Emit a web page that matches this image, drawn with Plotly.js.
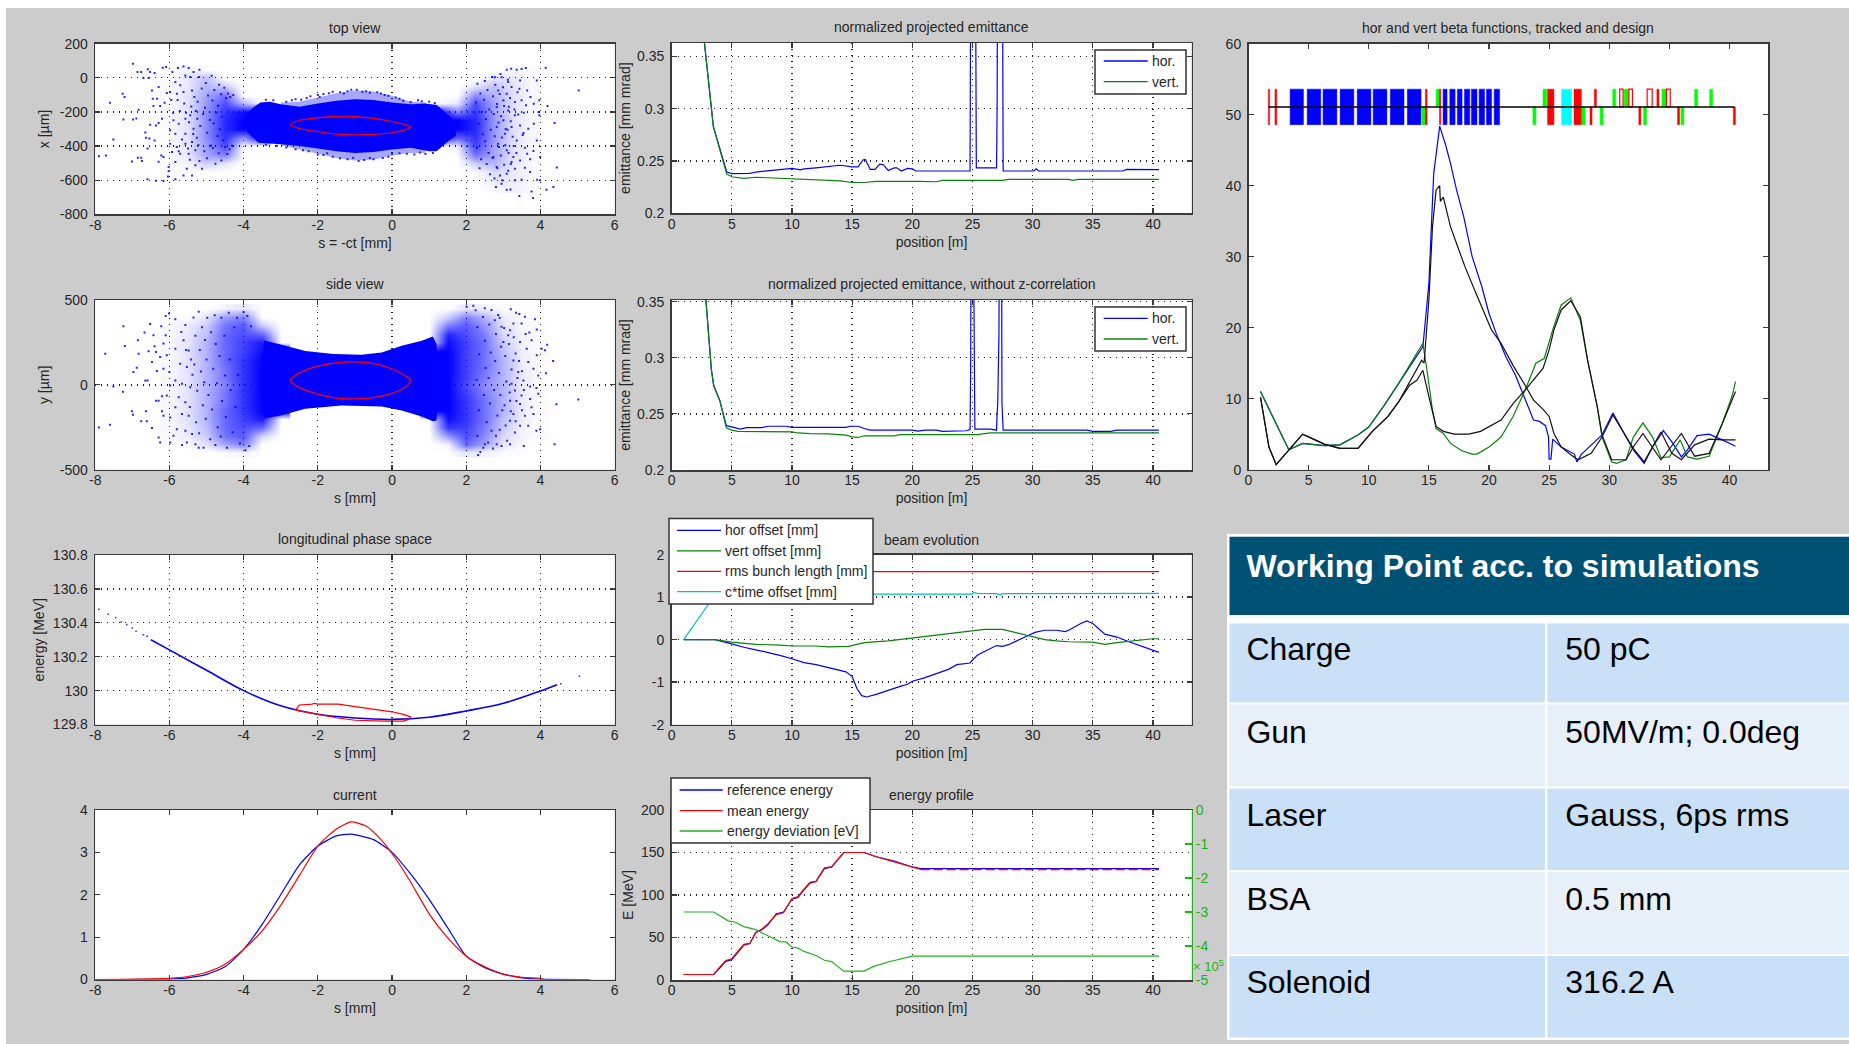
<!DOCTYPE html>
<html><head><meta charset="utf-8"><script src="https://cdn.plot.ly/plotly-3.0.1.min.js"></script>
<style>html,body{margin:0;padding:0;background:#fff;overflow:hidden}#g{width:1849px;height:1044px}</style></head>
<body><div id="g"></div>
<script>
// ---------- chart values ----------
const sTicks=[-8,-6,-4,-2,0,2,4,6], sLabels=['-8','-6','-4','-2','0','2','4','6'];
const posTicks=[0,5,10,15,20,25,30,35,40], posLabels=['0','5','10','15','20','25','30','35','40'];

// top view: solid core (s, x)
const topCore=[[-3.92,-210],[-3.75,-175],[-3.55,-145],[-3.3,-140],[-3,-155],[-2.5,-170],[-2,-150],[-1.5,-135],[-1,-125],[-.5,-130],[0,-145],[.5,-155],[.9,-150],[1.2,-160],[1.4,-195],[1.6,-235],[1.72,-265],[1.72,-340],[1.6,-355],[1.4,-395],[1.2,-430],[1,-430],[.5,-410],[0,-420],[-.5,-435],[-1,-440],[-1.5,-430],[-2,-415],[-2.5,-400],[-3,-390],[-3.6,-380],[-3.92,-315]];
const topFuzz=[[-3,-145],[-2.5,-140],[-2,-115],[-1.5,-90],[-1,-75],[-.5,-80],[0,-105],[.5,-140],[.9,-145],[.9,-440],[.5,-440],[0,-455],[-.5,-480],[-1,-485],[-1.5,-470],[-2,-445],[-2.5,-420],[-3,-395]];
// top view: estimated point density in the two wings
const topLeftS=[-6,-5.5,-5,-4.5,-4,-3.5], topLeftX=[50,0,-50,-100,-150,-200,-250,-300,-350,-400,-450,-500,-550,-600];
const topLeftDensity=[[0,.05,0,0,0,0],[.02,.1,.25,0,0,0],[.02,.1,.3,.2,0,0],[.02,.12,.35,.55,0,0],[.02,.12,.4,.7,.3,0],[.02,.12,.45,.8,.95,1],[.02,.12,.45,.85,1,1],[.02,.12,.45,.85,1,1],[.02,.12,.45,.8,.4,1],[.02,.1,.4,.7,.05,0],[.02,.1,.35,.5,0,0],[.02,.05,.2,.1,0,0],[.01,.02,0,0,0,0],[.01,0,0,0,0,0]];
const topRightS=[1.25,1.75,2.25,2.75,3.25,3.75], topRightX=[50,0,-50,-100,-150,-200,-250,-300,-350,-400,-450,-500,-550,-600,-650];
const topRightDensity=[[0,0,0,0,.03,.01],[0,0,0,.1,.1,.03],[0,0,.1,.25,.1,.03],[0,0,.45,.3,.12,.03],[0,.1,.7,.35,.12,.03],[1,.5,.8,.35,.12,.03],[1,1,.85,.4,.12,.03],[1,1,.85,.4,.12,.03],[1,.6,.8,.4,.12,.03],[0,.1,.75,.35,.12,.03],[0,0,.55,.35,.12,.03],[0,0,.2,.3,.1,.03],[0,0,.02,.15,.08,.02],[0,0,0,.1,.08,.02],[0,0,0,.02,.06,.02]];
const topPoints=[[-6.98,83],[-6.86,34],[-6.76,34],[-6.58,50],[-6.52,34],[-6.4,28],[-6.18,59],[-6.09,63],[-6.7,-1],[-6.56,-1],[-7.26,-93],[-7.21,-113],[-7.6,-146],[-6.47,-74],[-6.29,-54],[-6.45,-122],[-6.33,-122],[-6.83,-187],[-6.43,-165],[-6.25,-165],[-6.13,-146],[-7.24,-245],[-6.98,-245],[-6.89,-238],[-6.52,-275],[-6.36,-279],[-6.29,-265],[-6.2,-240],[-7.51,-361],[-6.65,-320],[-6.63,-351],[-6.54,-355],[-6.4,-367],[-6.59,-414],[-7.9,-460],[-7.71,-455],[-7.01,-490],[-6.85,-468],[-6.76,-468],[-6.74,-488],[-6.29,-492],[-6.22,-455],[-6.16,-464],[-6.59,-595],[-6.36,-603],[-6.16,-605],[-6.04,-578],[-6.02,-548],[-5.84,-595],
[-5.92,34],[-5.77,57],[-5.62,67],[-5.48,57],[-5.35,34],[-5.19,48],[-5.84,-25],[-5.71,-44],[-5.57,14],[-5.44,5],[-5.8,-93],[-5.98,-83],[-6.07,-89],[-5.62,-83],[-5.39,-74],[-5.89,-249],[-5.98,-308],[-5.75,-269],[-5.57,-240],[-5.44,-220],[-5.84,-328],[-5.57,-328],[-5.35,-298],[-5.98,-386],[-5.8,-406],[-5.57,-386],[-5.39,-376],[-5.93,-435],[-5.71,-445],[-5.48,-445],[-5.3,-425],[-5.84,-494],[-5.53,-533],[-5.3,-513],[-5.12,-533],[-5.62,-572],[-5.39,-572],[-6.02,-523],
[-5.2,5],[-5.13,-62],[-5.24,-140],[-5.09,-212],[-5.17,-283],[-5.26,-352],[-5.06,-431],[-5.19,-488],[-5.02,-31],[-4.96,-104],[-5.04,-176],[-4.91,-247],[-4.98,-322],[-4.88,-396],[-4.99,-472],[-4.86,12],[-4.79,-72],[-4.84,-133],[-4.73,-203],[-4.81,-268],[-4.7,-341],[-4.83,-412],[-4.76,-503],[-4.66,-41],[-4.61,-97],[-4.69,-163],[-4.58,-226],[-4.64,-301],[-4.55,-366],[-4.67,-442],[-4.6,-485],[-4.52,-58],[-4.47,-118],[-4.42,-92],[-4.36,-112],[-4.5,-405],[-4.44,-446],[-4.38,-418],[-4.31,-398],[-4.28,-101],[-5.33,-112],[-5.41,-168],[-5.29,-195],[-5.47,-260],[-5.25,-240],[-5.36,-330],[-5.5,-415],[-5.22,-395],[-5.6,-150],[-5.72,-195],[-5.55,-205],[-5.78,-130],[-5.66,-362],[-5.75,-430],[-5.45,-480],[-5.95,-130],[-5.9,-205],
[4.14,59],[5.03,-74],[3.61,57],[3.49,51],[3.36,48],[3.21,53],[3.09,48],[3.45,-15],[3.9,-15],[3.43,-64],[3.64,-74],[3.49,-132],[3.73,-113],[3.61,-161],[3.82,-152],[3.97,-132],[4.19,-165],[3.95,-200],[3.97,-220],[4.38,-265],[3.82,-269],[3.67,-298],[3.54,-324],[3.9,-367],[3.81,-429],[3.64,-445],[3.99,-464],[3.72,-478],[4.44,-525],[3.58,-527],[3.72,-552],[3.91,-597],[3.99,-601],[4.35,-640],[4.16,-656],[3.76,-666],[3.8,-705],[3.43,-693],[3.09,-656],[3.19,-654],[2.95,-621],[2.8,-640],[3.31,-601],[3.49,-597],[3.45,-484],[3.27,-464],[3.22,-494],[3.31,-533],[3.09,-562],[2.91,-572],[3.36,-367],[3.45,-279],[3.22,-289],[3.31,-220],[3.13,-191],[3.31,-142],[3.09,-93],[3.22,-54],[3.13,-25],[2.95,4],[2.77,4],[2.86,-74],[3,-132],[2.82,-171],[3,-249],[2.82,-289],[3.04,-328],[2.86,-386],[3.09,-425],[2.73,-464],[2.82,-523],
[2.3,-35],[2.38,-92],[2.26,-145],[2.42,-200],[2.33,-268],[2.44,-331],[2.29,-410],[2.4,-478],[2.36,-530],[2.5,-18],[2.57,-71],[2.48,-128],[2.62,-185],[2.53,-243],[2.66,-305],[2.51,-372],[2.6,-440],[2.55,-505],[2.64,-565],[2.7,5],[2.78,-40],[2.72,-108],[2.83,-153],[2.74,-212],[2.87,-262],[2.77,-342],[2.88,-405],[2.71,-470],[2.84,-530],[2.76,-590],[2.92,22],[2.99,-55],[2.9,-95],[3.02,-165],[2.94,-225],[3.06,-300],[2.96,-350],[3.05,-395],[2.93,-455],[3.02,-510],[2.97,-600],[3.12,-12],[3.18,-118],[3.15,-170],[3.2,-255],[3.11,-305],[3.25,-345],[3.14,-440],[3.2,-505],[3.13,-545],[3.28,-400],[3.3,-185],[3.38,-85],[3.4,-215],[3.35,-440],[3.52,-335],[3.55,-205],[3.58,-410],
[-2.6,-125],[-2.3,-118],[-2,-100],[-1.7,-90],[-1.4,-85],[-1.1,-70],[-.8,-82],[-.4,-85],[-.1,-105],[.3,-135],[.8,-138],[-2.4,-425],[-2,-450],[-1.6,-462],[-1.2,-478],[-.9,-487],[-.5,-477],[-.1,-462],[.4,-445],[.9,-447],
[-3.4,-128],[-3.2,-132],[-2.85,-140],[-2.7,-132],[-2.45,-128],[-2.2,-108],[-1.95,-112],[-1.85,-95],[-1.6,-82],[-1.3,-92],[-1.2,-78],[-.95,-70],[-.7,-78],[-.6,-88],[-.3,-92],[-.2,-100],[.1,-115],[.2,-122],[.5,-142],[.7,-132],[1,-140],[1.15,-148],[-3.4,-392],[-3.1,-398],[-2.85,-408],[-2.6,-418],[-2.25,-430],[-1.85,-452],[-1.75,-442],[-1.4,-472],[-1.05,-468],[-.75,-482],[-.6,-470],[-.25,-470],[0,-445],[.2,-442],[.6,-450],[.75,-438],[1.1,-440]];
const topEllipse=[[-2.74,-275],[-2.5,-250],[-2,-233],[-1.5,-226],[-1,-227],[-.5,-238],[0,-256],[.35,-275],[.5,-290],[.35,-305],[0,-322],[-.5,-332],[-1,-334],[-1.5,-330],[-2,-316],[-2.5,-297],[-2.74,-275]];

// side view (s, y)
const sideCore=[[-3.5,170],[-3.45,262],[-3,238],[-2.34,200],[-1.58,182],[-.82,178],[-.28,190],[.26,230],[.8,260],[1.1,285],[1.2,240],[1.25,0],[1.2,-210],[1.1,-215],[.8,-187],[.26,-151],[-.28,-128],[-1.36,-122],[-2.34,-141],[-3,-181],[-3.45,-198],[-3.5,-140],[-3.55,0]];
const sideLeftS=[-6,-5.5,-5,-4.5,-4,-3.5,-3], sideLeftY=[450,400,350,300,250,200,150,100,50,0,-50,-100,-150,-200,-250,-300,-350,-400];
const sideLeftDensity=[[0,0,0,.05,.1,0,0],[0,.02,.1,.4,.5,0,0],[.03,.08,.2,.55,.65,.2,0],[.03,.1,.25,.6,.7,.6,0],[.03,.1,.3,.6,.75,.9,0],[.03,.12,.3,.6,.75,.95,1],[.03,.12,.3,.6,.8,1,1],[.03,.12,.3,.55,.8,1,1],[.03,.12,.3,.55,.8,1,1],[.03,.12,.3,.5,.8,1,1],[.03,.12,.3,.55,.8,1,1],[.03,.12,.3,.55,.8,1,1],[.03,.12,.3,.6,.8,1,1],[.03,.12,.3,.6,.75,.9,0],[.03,.1,.25,.6,.7,.6,0],[.02,.08,.2,.55,.65,.15,0],[.01,.02,.12,.35,.5,0,0],[0,0,0,.02,.05,0,0]];
const sideRightS=[1,1.5,2,2.5,3,3.5,4], sideRightY=[450,400,350,300,250,200,150,100,50,0,-50,-100,-150,-200,-250,-300,-350,-400];
const sideRightDensity=[[0,0,.1,.05,.01,0,0],[0,.2,.5,.3,.08,.03,0],[0,.5,.65,.4,.12,.03,.01],[0,.85,.7,.5,.15,.05,.01],[0,.95,.75,.55,.2,.05,.01],[1,1,.75,.55,.25,.07,.01],[1,1,.75,.55,.3,.07,.01],[1,1,.75,.55,.3,.08,.01],[1,1,.75,.5,.3,.08,.01],[1,1,.7,.45,.3,.08,.01],[1,1,.75,.5,.3,.08,.01],[1,1,.8,.55,.3,.08,.01],[1,1,.8,.55,.3,.08,.01],[0,.95,.8,.55,.25,.07,.01],[0,.8,.75,.5,.2,.05,.01],[0,.4,.7,.45,.15,.05,.01],[0,.05,.6,.35,.1,.03,0],[0,0,.1,.05,.02,0,0]];
const sidePoints=[[-7.9,-251],[-7.6,-235],[-7.73,184],[-7.24,346],[-7.2,229],[-6.85,263],[-6.67,308],[-6.52,358],[-6.83,184],[-6.88,101],[-6.97,75],[-6.65,26],[-6.59,26],[-7.51,-10],[-7.25,-40],[-7.01,-156],[-6.98,-176],[-6.63,-156],[-6.76,-215],[-6.61,-215],[-6.47,-255],[-6.29,-93],[-6.36,-93],[-6.2,-67],[-6.29,-310],[-6.25,-340],[-6.22,346],[-6.1,405],[-6.01,421],[-5.84,387],[-6.43,292],[-6.1,292],[-6.16,243],[-6.4,227],[-6.56,198],[-6.36,194],[-6.07,174],[-6.47,134],[-6.25,164],[-6.16,95],[-6.34,81],[-6,75],[-5.98,-4],[-6.07,-63],[-6.16,-182],[-6.2,-156],[-5.98,-192],[-5.89,-300],[-5.98,-340],[-5.66,-354],[-5.53,-340],[-5.21,431],[-5.35,397],[-5.57,352],[-5.68,312],[-5.84,213],[-5.62,263],[-5.48,203],[-5.71,124],[-5.53,105],[-5.84,26],[-5.66,6],[-5.44,-14],[-5.75,-73],[-5.57,-103],[-5.84,-132],[-5.66,-172],[-5.48,-182],[-5.8,-261],[-5.57,-271],[-5.39,-290],[-5.21,-370],[-5.08,-370],[-5.3,-350],
[-5.55,205],[-5.42,150],[-5.3,290],[-5.38,60],[-5.25,-35],[-5.45,-130],[-5.28,-220],[-5.33,120],[-5.18,205],[-5.12,340],[-5.15,78],[-5.1,-120],[-5.2,-285],[-5.04,265],[-5.06,15],[-4.98,395],[-5,150],[-4.95,-60],[-5.02,-200],[-4.9,-320],[-4.88,310],[-4.82,95],[-4.85,-145],[-4.78,410],[-4.75,240],[-4.72,10],[-4.7,-250],[-4.76,-355],[-4.65,170],[-4.6,395],[-4.58,-95],[-4.62,-305],[-4.52,290],[-4.5,55],[-4.48,-190],[-4.45,-370],[-4.4,425],[-4.38,150],[-4.35,-30],[-4.3,-280],[-4.25,340],[-4.22,-130],[-4.18,395],[-4.15,60],[-4.1,-345],[-4,430],[-3.9,405],[-3.95,-385],[-3.85,-360],[-3.8,345],
[5.02,-87],[4.43,-115],[4.38,-350],[4.34,140],[4.18,237],[4.12,204],[4.15,69],[3.9,326],[3.85,387],[3.7,308],[3.58,401],[3.43,417],[3.34,425],[3.2,445],[3.27,362],[3.49,362],[3.18,322],[3.45,253],[3.63,213],[3.76,263],[4.03,213],[3.9,174],[3.67,134],[3.81,95],[3.94,55],[3.54,26],[3.72,-10],[3.89,-18],[3.49,-63],[3.72,-83],[3.94,-53],[3.45,-113],[3.76,-132],[3.81,-172],[3.58,-182],[3.99,-261],[3.89,-271],[3.67,-241],[3.45,-241],[3.31,-281],[3.55,-360],[3.18,-350],[2.95,-360],[2.82,-350],[2.32,-413],[2.46,-370],[2.59,-340],[3.18,-211],[3.27,-172],[3.18,-93],[3.31,-34],[3.22,6],[3.4,75],[3.27,144],[3,253],[3.13,292],[2.95,342],[2.86,411],[2.68,441],[2.5,451],[2.77,381],[2.19,466],[2.01,460],
[2.25,440],[2.3,340],[2.35,180],[2.28,30],[2.34,-150],[2.3,-300],[2.38,-395],[2.45,400],[2.5,260],[2.52,100],[2.47,-60],[2.55,-220],[2.5,-350],[2.62,355],[2.66,190],[2.6,40],[2.64,-110],[2.68,-270],[2.72,-375],[2.8,300],[2.78,140],[2.75,-30],[2.84,-180],[2.8,-300],[2.9,395],[2.94,225],[2.88,70],[2.92,-60],[2.97,-150],[2.9,-265],[3.02,335],[3.05,170],[3.08,20],[3.03,-120],[3.06,-240],[3.1,-330],[3.15,240],[3.22,90],[3.17,-45],[3.2,-155],[3.28,280],[3.33,185],[3.38,40],[3.35,-95],[3.33,-215],[3.42,140],[3.5,80],[3.55,-30],[3.5,-150],[3.6,300]];
const sideEllipse=[[-2.74,25],[-2.5,70],[-2,110],[-1.5,130],[-1,135],[-.5,125],[0,95],[.35,55],[.5,28],[.35,-15],[0,-50],[-.5,-75],[-1,-82],[-1.5,-78],[-2,-55],[-2.5,-15],[-2.74,25]];

// longitudinal phase space (s, energy)
const longCurve=[[-6.5,130.3],[-6,130.24],[-5,130.12],[-4,130],[-3,129.91],[-2,129.86],[-1,129.838],[0,129.83],[1,129.843],[2,129.88],[3,129.925],[4,129.998],[4.45,130.035]];
const longSparse=[[-7.9,130.48],[-7.65,130.45],[-7.45,130.43],[-7.3,130.405],[-7.15,130.39],[-7,130.37],[-6.9,130.35],[-6.7,130.33],[-6.6,130.32],[4.55,130.04],[5.05,130.085]];
const longEllipse=[[-2.6,129.885],[-2.5,129.915],[-2.15,129.92],[-2.1,129.925],[-2,129.92],[-1.45,129.92],[-1,129.905],[-.5,129.89],[0,129.875],[.3,129.86],[.5,129.845],[.45,129.83],[.3,129.82],[-.2,129.82],[-1,129.825],[-1.5,129.84],[-2,129.86],[-2.6,129.885]];

// current
const currentBlue=[[-8,0],[-6,.01],[-5.5,.04],[-5,.12],[-4.5,.3],[-4,.71],[-3.5,1.3],[-3,2],[-2.5,2.7],[-2,3.15],[-1.5,3.39],[-1.1,3.43],[-.5,3.3],[0,3],[.5,2.49],[1,1.89],[1.5,1.22],[2,.55],[2.5,.28],[3,.13],[3.5,.04],[4,.01],[5.3,0]];
const currentRed=[[-8,0],[-6,.03],[-5.5,.07],[-5,.17],[-4.5,.36],[-4,.71],[-3.5,1.15],[-3,1.75],[-2.5,2.45],[-2,3.15],[-1.5,3.55],[-1.1,3.72],[-.7,3.62],[-.3,3.3],[.1,2.85],[.5,2.3],[1,1.55],[1.5,.98],[2,.55],[2.5,.3],[3,.12],[3.5,.05],[4,.03],[4.1,0],[5.35,0]];

// normalized projected emittance (position, emittance)
const emitHor=[[2,.5],[2.73,.363],[3.47,.283],[3.94,.264],[4.58,.2395],[5,.238],[6.5,.2382],[7,.2395],[8,.2405],[8.5,.2415],[10,.243],[10.7,.2415],[11,.2425],[12,.2435],[13,.245],[14,.246],[15,.2445],[15.5,.2445],[15.9,.251],[16.1,.2515],[16.5,.242],[16.9,.242],[17.3,.247],[17.6,.2465],[18,.241],[18.5,.2435],[18.7,.2435],[19.1,.2405],[19.6,.243],[20,.2425],[20.3,.2405],[24.8,.2405],[24.9,.6],[25.2,.6],[25.32,.2435],[27,.2435],[27.05,.3],[27.12,.6],[27.45,.6],[27.55,.2405],[30.1,.2405],[30.3,.2425],[30.5,.2405],[37.5,.2405],[37.8,.242],[40.5,.2418]];
const emitVert=[[2,.5],[2.73,.363],[3.47,.283],[3.94,.264],[4.58,.2375],[5,.235],[6,.2335],[7,.2345],[8,.234],[10,.2335],[11,.233],[12,.232],[13,.2315],[14,.231],[15,.2295],[16,.2295],[17,.2305],[19,.2305],[20,.231],[20.5,.2305],[22,.2302],[22.5,.2315],[25,.2315],[27.5,.2315],[28,.2325],[33,.2325],[33.3,.2315],[33.8,.2325],[40.5,.2325]];
const emitCorrHor=[[2,.5],[2.85,.3515],[3.3,.29],[3.5,.275],[4,.262],[4.55,.2395],[5,.2385],[5.7,.2365],[6.2,.2378],[7.5,.2378],[8,.239],[9.5,.239],[10,.238],[14.5,.238],[14.8,.239],[15.5,.239],[16,.237],[16.5,.2355],[20,.2355],[20.5,.2347],[21,.2355],[22,.2355],[22.5,.2345],[24.5,.235],[24.8,.236],[24.85,.29],[24.95,.6],[25.05,.6],[25.12,.29],[25.2,.2365],[26.5,.2365],[27,.2355],[27.05,.25],[27.1,.26],[27.2,.32],[27.3,.6],[27.38,.6],[27.45,.26],[27.55,.2355],[34.5,.2355],[35,.2345],[36.5,.2345],[37,.2355],[40.5,.2355]];
const emitCorrVert=[[2,.5],[2.85,.3515],[3.3,.29],[3.5,.275],[4,.262],[4.55,.2375],[5,.2355],[5.5,.2345],[10,.234],[10.5,.233],[11.5,.2325],[13,.2322],[14.5,.231],[15,.2295],[15.5,.229],[16,.2305],[18.5,.2305],[19,.2315],[25.5,.2315],[25.7,.232],[26.5,.233],[40.5,.233]];

// beam evolution
const beamHor=[[1,0],[3.6,0],[5,-.1],[6,-.18],[7,-.24],[8,-.3],[9,-.37],[10,-.45],[11,-.54],[12,-.59],[13,-.66],[14,-.72],[14.5,-.76],[15,-.87],[15.4,-1.15],[15.8,-1.32],[16.2,-1.35],[17,-1.29],[18,-1.19],[19,-1.1],[19.6,-1.05],[20,-.98],[21,-.9],[22,-.8],[23,-.7],[23.7,-.59],[24.8,-.55],[25,-.48],[25.4,-.37],[26,-.28],[27,-.14],[27.5,-.16],[28,-.12],[29.5,.08],[30.2,.17],[31,.22],[32,.22],[32.7,.19],[33,.22],[34,.38],[34.5,.44],[35,.38],[36,.13],[37,.06],[38,-.05],[40.5,-.3]];
const beamVert=[[1,0],[3.6,0],[5,-.06],[7,-.11],[9,-.13],[10,-.15],[12,-.15],[13,-.17],[14.7,-.16],[15,-.14],[16,-.07],[18,-.03],[20,.04],[22,.11],[24,.18],[25,.2],[26,.24],[27.5,.24],[29,.14],[30,.08],[31,0],[32,-.03],[33,-.05],[35,-.06],[36,-.11],[37,-.07],[38,-.04],[38.5,-.02],[39,-.02],[40,.02],[40.5,.02]];
const beamRms=[[1,1.6],[40.5,1.6]];
const beamTime=[[1,0],[3.6,1.05],[14.9,1.07],[25,1.07],[25.1,1.11],[25.4,1.09],[27,1.08],[27.3,1.05],[27.5,1.08],[40.5,1.09]];
const beamLabels=['-2','-1','0','1','2'], beamTicks=[-2,-1,0,1,2];

// energy profile
const energyRef=[[1,6.5],[3.5,6.5],[4,14],[4.5,22],[5,24],[5.5,33],[6,41],[6.5,43],[7,56],[7.5,59],[8,65],[8.7,78],[9.3,80],[10,95],[10.5,97],[11,106],[11.5,114],[12,116],[12.7,131],[13.3,133],[14.3,150],[16,150],[17,145],[18.5,140],[20,133],[20.7,131],[40.5,131]];
const energyMean=[[1,6.5],[3.5,6.5],[4,15],[4.5,23],[5,25],[5.5,34],[6,42],[6.5,43],[7,56],[7.5,60],[8,66],[8.7,77],[9.3,79],[10,96],[10.5,98],[11,107],[11.5,115],[12,116],[12.7,132],[13.3,133],[14.3,150],[16,150],[17,145],[18.5,139],[20,133],[20.7,130]];
const energyMeanTail=[[20.7,130],[40.5,130]];
const energyDev=[[1,-3e5],[3.5,-3e5],[4.7,-3.26e5],[5.3,-3.3e5],[6,-3.43e5],[7,-3.52e5],[8,-3.7e5],[9,-3.87e5],[9.5,-3.88e5],[10,-4.03e5],[10.5,-4.06e5],[11,-4.16e5],[12,-4.28e5],[12.7,-4.42e5],[13.3,-4.46e5],[14.3,-4.74e5],[16,-4.74e5],[16.8,-4.6e5],[18,-4.47e5],[19,-4.38e5],[20,-4.3e5],[40.5,-4.3e5]];

// beta functions
const betaHorTracked=[[1,11],[3.35,2.8],[4.5,3.7],[5.4,3.6],[6.3,3.4],[7.6,3.5],[9.1,4.9],[10,6],[11.3,9.1],[12.5,12.2],[14.5,17.3],[15,26.2],[15.4,41.7],[15.9,48.4],[16.4,45.7],[16.8,43.1],[17.3,39.4],[17.9,35.6],[18.6,30],[19.4,25.8],[20,22],[20.6,19.2],[21.4,15.9],[22.2,13.3],[23,10],[23.7,7],[24.2,6.8],[24.7,6.2],[24.95,4.6],[25,1.5],[25.15,1.5],[25.3,4.3],[26,3.2],[27.1,2.2],[27.3,1.1],[27.7,2.2],[29.4,4.9],[30.3,8],[31.4,4.6],[32,2.8],[32.9,.9],[33.6,3.2],[34.5,5.5],[35.3,3.7],[36,1.8],[36.5,2.8],[37.3,4.8],[38.3,5],[39.4,4.2],[40.2,3.5],[40.5,3.3]];
const betaVertTracked=[[1,11],[3.35,2.8],[4.5,3.7],[5.4,3.6],[6.3,3.4],[7.6,3.5],[9.1,4.9],[10,6],[11.3,9.1],[12.5,12.2],[14.5,17.8],[14.8,14.5],[15.3,8.4],[15.6,5.8],[16.2,5.1],[16.8,3.7],[17.7,2.7],[18.6,2.2],[19,2.2],[20,3.2],[21,4.6],[22,7.5],[23,11.2],[23.9,15],[24.6,15.7],[25.3,19.7],[26,23.2],[26.8,24.2],[27.6,21],[28.2,15.4],[29,8.9],[29.4,4.6],[30.2,1.1],[30.6,.9],[31.4,1.4],[32,4.6],[32.8,6.6],[33.6,4.6],[34.3,1.7],[35,1.8],[35.9,4.2],[36.5,1.8],[37.3,1.5],[38.3,1.9],[39.4,6.5],[40.2,10.3],[40.5,12.4]];
const betaHorDesign=[[1,10.2],[1.7,3.2],[2.3,.7],[3.4,2.8],[4.5,5],[5.4,4.3],[6.3,3.6],[7.6,3],[9.1,3],[10.3,5.4],[11.6,7.5],[12.5,9.6],[13.3,12],[14.4,15.4],[14.6,15],[15,23.9],[15.3,34.2],[15.6,39.4],[15.9,40],[15.95,37.8],[16.2,38.4],[16.8,34.2],[17.4,31.4],[18,28.6],[18.8,25.3],[19.4,23],[20.2,19.7],[21,17.8],[22,14.7],[23,11.9],[23.7,9.8],[24.5,8.5],[25,7.5],[25.4,5.1],[26,3.2],[26.8,2.1],[27.4,1.4],[28.5,2.3],[29.4,4.6],[30.3,7.7],[31.4,4.6],[32,3],[32.9,1.1],[34.3,5.3],[35.2,2.3],[36,1.4],[37.1,3.5],[38.3,4.3],[39.4,4.2],[40.5,4.2]];
const betaVertDesign=[[1,10.2],[1.7,3.2],[2.3,.7],[3.4,2.8],[4.5,5],[5.4,4.3],[6.3,3.6],[7.6,3],[9.1,3],[10.3,5.4],[11.6,7.5],[12.5,9.6],[13.4,11.9],[14,12.6],[14.5,14],[15,10.3],[15.6,6.1],[16.2,5.4],[17.1,5],[18.3,5],[19.3,5.4],[21,7],[22,9.3],[23,11.2],[23.9,13.1],[24.5,14.3],[25,16.9],[25.4,19.7],[26,22.5],[26.8,23.8],[27.6,21.5],[28.2,15.4],[29,8.9],[29.4,4.9],[30.2,1.4],[31.4,1.4],[32,3.2],[32.8,5.1],[34.3,1.4],[36,5.1],[37.1,1.9],[38.3,2.3],[39.4,6.5],[40.5,11]];
// beam line elements [start, end]
const latticeLine=[[1.65,51.1],[40.4,51.1]];
const latticeTop=53.6, latticeMid=51.1, latticeBottom=48.6;
const latBlue=[[3.46,4.57],[4.88,6.01],[6.2,7.35],[7.62,8.76],[9.04,10.18],[10.37,11.51],[11.79,12.93],[13.21,14.35],[16.18,16.51],[16.74,17.18],[17.37,17.76],[17.96,18.4],[18.54,19],[19.18,19.63],[19.79,20.21],[20.43,20.88]];
const latRedBoth=[[1.65,1.76],[2.2,2.35],[14.71,14.85],[15.88,15.99],[24.87,25.4],[27.07,27.68]];
const latGreenUp=[[15.6,15.9],[24.49,24.79],[30.29,30.54],[31.24,31.6],[34.38,34.74],[37.1,37.35],[38.35,38.6]];
const latGreenDown=[[14.43,14.74],[23.65,23.9],[27.71,27.99],[29.24,29.49],[32.85,33.1],[35.96,36.21]];
const latRedUp=[[28.76,28.93],[33.96,34.13]];
const latRedDown=[[28.4,28.57],[32.46,32.63],[35.68,35.85],[40.32,40.49]];
const latRedOpen=[[30.87,31.15],[31.63,31.93],[33.15,33.57],[34.76,35.07]];
const latCyan=[[26.04,26.87]];

// table
const tableHeader='Working Point acc. to simulations';
const tableNames=['Charge','Gun','Laser','BSA','Solenoid'];
const tableValues=['50 pC','50MV/m; 0.0deg','Gauss, 6ps rms','0.5 mm','316.2 A'];
// legends
const legendEmit=['hor.','vert.'];
const legendBeam=['hor offset [mm]','vert offset [mm]','rms bunch length [mm]','c*time offset [mm]'];
const legendEnergy=['reference energy','mean energy','energy deviation [eV]'];

// ---------- drawing ----------
const W=1849,H=1044, FONT='"Liberation Sans",Arial,sans-serif', TXT='#262626', AX='#3a3a3a';
const BLUE='#0000ff',GREEN='#0a820a',RED='#ff0000',CYAN='#00bfbf',LG='#22b022';
const X=a=>a.map(p=>p[0]), Y=a=>a.map(p=>p[1]);
const traces=[];
function line(a,n,color,o={}){const t=Object.assign({type:'scatter',mode:'lines',x:X(a),y:Y(a),xaxis:'x'+n,yaxis:'y'+n,line:{color,width:o.width||1.2,shape:o.shape||'linear',smoothing:o.smoothing===undefined?1:o.smoothing,dash:o.dash||'solid'},showlegend:false,hoverinfo:'skip',name:o.name},o.extra||{});traces.push(t);return t;}
function area(a,n,op){traces.push({type:'scatter',mode:'lines',x:X(a),y:Y(a),xaxis:'x'+n,yaxis:'y'+n,fill:'toself',fillcolor:`rgba(0,0,255,${op})`,line:{width:0},showlegend:false,hoverinfo:'skip'});}
function density(xs,ys,z,n){traces.push({type:'heatmap',x:xs,y:ys,z,xaxis:'x'+n,yaxis:'y'+n,zmin:0,zmax:1,zsmooth:'best',showscale:false,hoverinfo:'skip',colorscale:[[0,'rgba(0,0,255,0)'],[1,'rgba(0,0,255,1)']]});}
function dots(a,n,size){traces.push({type:'scatter',mode:'markers',x:X(a),y:Y(a),xaxis:'x'+n,yaxis:'y'+n,marker:{symbol:'square',size:size||2,color:'rgba(0,0,255,.85)'},showlegend:false,hoverinfo:'skip'});}
function boxes(a,lo,hi,color,open){const xs=[],ys=[];a.forEach(([s,e])=>{xs.push(s,s,e,e,s,null);ys.push(lo,hi,hi,lo,lo,null);});
 const t={type:'scatter',mode:'lines',x:xs,y:ys,xaxis:'x7',yaxis:'y7',showlegend:false,hoverinfo:'skip'};
 if(open){t.line={color,width:1.2};}else{t.fill='toself';t.fillcolor=color;t.line={color,width:.5};}
 traces.push(t);}

// geometry of the panels: [left, right, top, bottom] in px
const panels={1:[95.2,614.7,43.7,214.3],2:[95.2,614.7,300,469.7],3:[95.2,614.7,555,724.5],4:[95.2,614.7,810,979.5],
 5:[671.6,1191.5,43,213.3],6:[671.6,1191.5,300,470],8:[671.6,1191.5,554.6,724.6],9:[671.6,1191.5,810,980],7:[1248.5,1768,43.7,469.7]};
const pr=(a,b,c,d,o)=>Object.assign({type:'rect',xref:'paper',yref:'paper',x0:a/W,x1:b/W,y0:1-d/H,y1:1-c/H,fillcolor:'#fff',line:{width:0}},o||{});
const layout={width:W,height:H,margin:{l:0,r:0,t:0,b:0},paper_bgcolor:'#cccccc',plot_bgcolor:'#ffffff',font:{family:FONT,size:14,color:TXT},showlegend:false,
 shapes:[pr(0,W,0,8),pr(0,6,0,H),pr(1227,W,534,1040,{layer:'below'}),pr(1229.5,W,536.7,615,{layer:'below',fillcolor:'#005275'})],
 annotations:[]};
function axes(n,xr,xt,xl,yr,yt,yl,grid,xtitle,ytitle,stand,extra={}){
 const [l,r,t,b]=panels[n];
 const base={showline:true,linecolor:AX,linewidth:1.5,mirror:'ticks',ticks:'inside',ticklen:5,tickwidth:1.2,tickcolor:AX,zeroline:false,showgrid:grid,gridcolor:'#222',griddash:'1px,5px',gridwidth:1.3,tickmode:'array',tickfont:{size:14,color:TXT}};
 layout['xaxis'+n]=Object.assign({},base,{domain:[l/W,r/W],anchor:'y'+n,range:xr,tickvals:xt,ticktext:xl,ticklabelstandoff:-3,title:xtitle?{text:xtitle,standoff:6,font:{size:14,color:TXT}}:undefined});
 layout['yaxis'+n]=Object.assign({},base,{domain:[1-b/H,1-t/H],anchor:'x'+n,range:yr,tickvals:yt,ticktext:yl,ticklabelstandoff:3,title:ytitle?{text:ytitle,standoff:stand===undefined?7:stand,font:{size:14,color:TXT}}:undefined},extra);
}
function title(n,text,yPx){const [l,r]=panels[n];layout.annotations.push({xref:'paper',yref:'paper',x:(l+r)/2/W,y:1-yPx/H,text,showarrow:false,xanchor:'center',yanchor:'middle',font:{size:14,color:TXT}});}
// box-style legend: box [x0,x1,y0,y1], swatch [x0,x1], text x, row centres
function legendBox(box,sw,tx,rows,names,colors){
 layout.shapes.push(pr(box[0],box[1],box[2],box[3],{layer:'above',line:{color:'#333',width:1.5}}));
 names.forEach((t,i)=>{
  layout.shapes.push({type:'line',xref:'paper',yref:'paper',layer:'above',x0:sw[0]/W,x1:sw[1]/W,y0:1-rows[i]/H,y1:1-rows[i]/H,line:{color:colors[i],width:1.3}});
  layout.annotations.push({xref:'paper',yref:'paper',x:tx/W,y:1-rows[i]/H,xanchor:'left',yanchor:'middle',text:t,showarrow:false,font:{size:14,color:TXT}});
 });
}

// top view
axes(1,[-8,6],sTicks,sLabels,[-800,200],[-800,-600,-400,-200,0,200],['-800','-600','-400','-200','0','200'],true,'s = -ct [mm]','x [µm]');
density(topLeftS,topLeftX,topLeftDensity,1);density(topRightS,topRightX,topRightDensity,1);
area(topFuzz,1,.35);area(topCore,1,1);dots(topPoints,1);
line(topEllipse,1,RED,{shape:'spline'});
title(1,'top view',28.3);
// side view
axes(2,[-8,6],sTicks,sLabels,[-500,500],[-500,0,500],['-500','0','500'],true,'s [mm]','y [µm]');
density(sideLeftS,sideLeftY,sideLeftDensity,2);density(sideRightS,sideRightY,sideRightDensity,2);
area(sideCore,2,1);dots(sidePoints,2);
line(sideEllipse,2,RED,{shape:'spline'});
title(2,'side view',284);
// longitudinal
axes(3,[-8,6],sTicks,sLabels,[129.8,130.8],[129.8,130,130.2,130.4,130.6,130.8],['129.8','130','130.2','130.4','130.6','130.8'],true,'s [mm]','energy [MeV]',5);
line(longCurve,3,BLUE,{width:1.6,shape:'spline'});dots(longSparse,3,1.5);line(longEllipse,3,RED);
title(3,'longitudinal phase space',539.4);
// current
axes(4,[-8,6],sTicks,sLabels,[0,4],[0,1,2,3,4],['0','1','2','3','4'],false,'s [mm]',null);
line(currentBlue,4,BLUE,{shape:'spline',smoothing:.6});
line(currentRed,4,RED,{shape:'spline',smoothing:.6});
title(4,'current',794.7);
// emittance
axes(5,[0,43.2],posTicks,posLabels,[.2,.363],[.2,.25,.3,.35],['0.2','0.25','0.3','0.35'],true,'position [m]','emittance [mm mrad]',3);
line(emitHor,5,BLUE,{name:legendEmit[0]});line(emitVert,5,GREEN,{name:legendEmit[1]});
legendBox([1095,1186,50,94],[1103.7,1147.7],1150,[61,81.7],legendEmit,[BLUE,GREEN]);
title(5,'normalized projected emittance',27);
axes(6,[0,43.2],posTicks,posLabels,[.2,.3515],[.2,.25,.3,.35],['0.2','0.25','0.3','0.35'],true,'position [m]','emittance [mm mrad]',3);
line(emitCorrHor,6,BLUE,{name:legendEmit[0]});line(emitCorrVert,6,GREEN,{name:legendEmit[1]});
legendBox([1095,1186,307,351],[1103.7,1147.7],1150,[318.3,339],legendEmit,[BLUE,GREEN]);
title(6,'normalized projected emittance, without z-correlation',284);
// beam evolution
axes(8,[0,43.2],posTicks,posLabels,[-2,2],beamTicks,beamLabels,true,'position [m]',null);
line(beamHor,8,BLUE,{name:legendBeam[0]});line(beamVert,8,GREEN,{name:legendBeam[1]});line(beamRms,8,RED,{name:legendBeam[2]});line(beamTime,8,CYAN,{name:legendBeam[3]});
legendBox([669,873,518.5,604],[677,721],722.7,[530.4,550.9,571.3,591.7],legendBeam,[BLUE,GREEN,RED,CYAN]);
title(8,'beam evolution',539.6);
// energy profile
axes(9,[0,43.2],posTicks,posLabels,[0,200],[0,50,100,150,200],['0','50','100','150','200'],true,'position [m]','E [MeV]',4,{mirror:false});
line(energyRef,9,BLUE,{name:legendEnergy[0]});line(energyMean,9,RED,{name:legendEnergy[1]});
line(energyMeanTail,9,RED,{width:1.6,dash:'9px,4px'});
line(energyDev,9,LG,{name:legendEnergy[2],extra:{yaxis:'y10'}});
layout.yaxis10={domain:layout.yaxis9.domain,overlaying:'y9',side:'right',anchor:'x9',range:[-5e5,0],tickmode:'array',tickvals:[-5e5,-4e5,-3e5,-2e5,-1e5,0],ticktext:['-5','-4','-3','-2','-1','0'],showline:true,linecolor:LG,linewidth:1.5,ticks:'inside',ticklen:7,tickcolor:LG,tickwidth:1.2,tickfont:{size:14,color:LG},showgrid:false,zeroline:false};
legendBox([671,870,778,843],[679.6,722.7],725,[790,810.7,831],legendEnergy,[BLUE,RED,LG]);
title(9,'energy profile',794.7);
layout.annotations.push({xref:'paper',yref:'paper',x:1191/W,y:1-966/H,xanchor:'left',yanchor:'middle',text:'× 10<sup>5</sup>',showarrow:false,font:{size:13,color:LG}});
// beta functions
axes(7,[0,43.2],posTicks,posLabels,[0,60],[0,10,20,30,40,50,60],['0','10','20','30','40','50','60'],false,null,null);
boxes(latBlue,latticeBottom,latticeTop,BLUE);boxes(latCyan,latticeBottom,latticeTop,'#00ffff');
boxes(latGreenUp,latticeMid,latticeTop,'#00ff00');boxes(latGreenDown,latticeBottom,latticeMid,'#00ff00');
boxes(latRedBoth,latticeBottom,latticeTop,RED);boxes(latRedUp,latticeMid,latticeTop,RED);boxes(latRedDown,latticeBottom,latticeMid,RED);
boxes(latRedOpen,latticeMid,latticeTop,RED,true);
line(latticeLine,7,'#000',{width:1.5});
line(betaHorTracked,7,BLUE);line(betaVertTracked,7,GREEN);line(betaHorDesign,7,'#111');line(betaVertDesign,7,'#111');
title(7,'hor and vert beta functions, tracked and design',28.3);
// table: row backgrounds sit under the table traces, which carry the text
const rowBands=[[623.6,702.5,'#c9e0f7'],[704.5,786.4,'#e7eff9'],[788.4,870,'#c9e0f7'],[872,954.5,'#e7eff9'],[956,1037.4,'#c9e0f7']];
rowBands.forEach(([a,b,c])=>{layout.shapes.push(pr(1229.5,1545,a,b,{layer:'below',fillcolor:c}));layout.shapes.push(pr(1547.4,W,a,b,{layer:'below',fillcolor:c}));});
const clear='rgba(0,0,0,0)';
traces.push({type:'table',domain:{x:[1229.5/W,1],y:[1-615/H,1-540/H]},columnwidth:[1],
 header:{values:['<b>\u00a0'+tableHeader+'</b>'],height:75,align:'left',fill:{color:'#005275'},line:{color:'#005275',width:0},font:{family:FONT,size:32,color:'#fff'}},
 cells:{values:[[]]}});
traces.push({type:'table',domain:{x:[1229.5/W,1],y:[0,1-612/H]},columnwidth:[316.5,303],
 header:{values:[],height:0.01,line:{width:0},fill:{color:clear}},
 cells:{values:[tableNames.map(s=>'\u00a0'+s),tableValues.map(s=>'\u00a0\u200a'+s)],height:83.2,align:'left',fill:{color:clear},line:{color:clear,width:0},font:{family:FONT,size:32,color:'#000'}}});
Plotly.newPlot('g',traces,layout,{staticPlot:true,displayModeBar:false});
</script></body></html>
